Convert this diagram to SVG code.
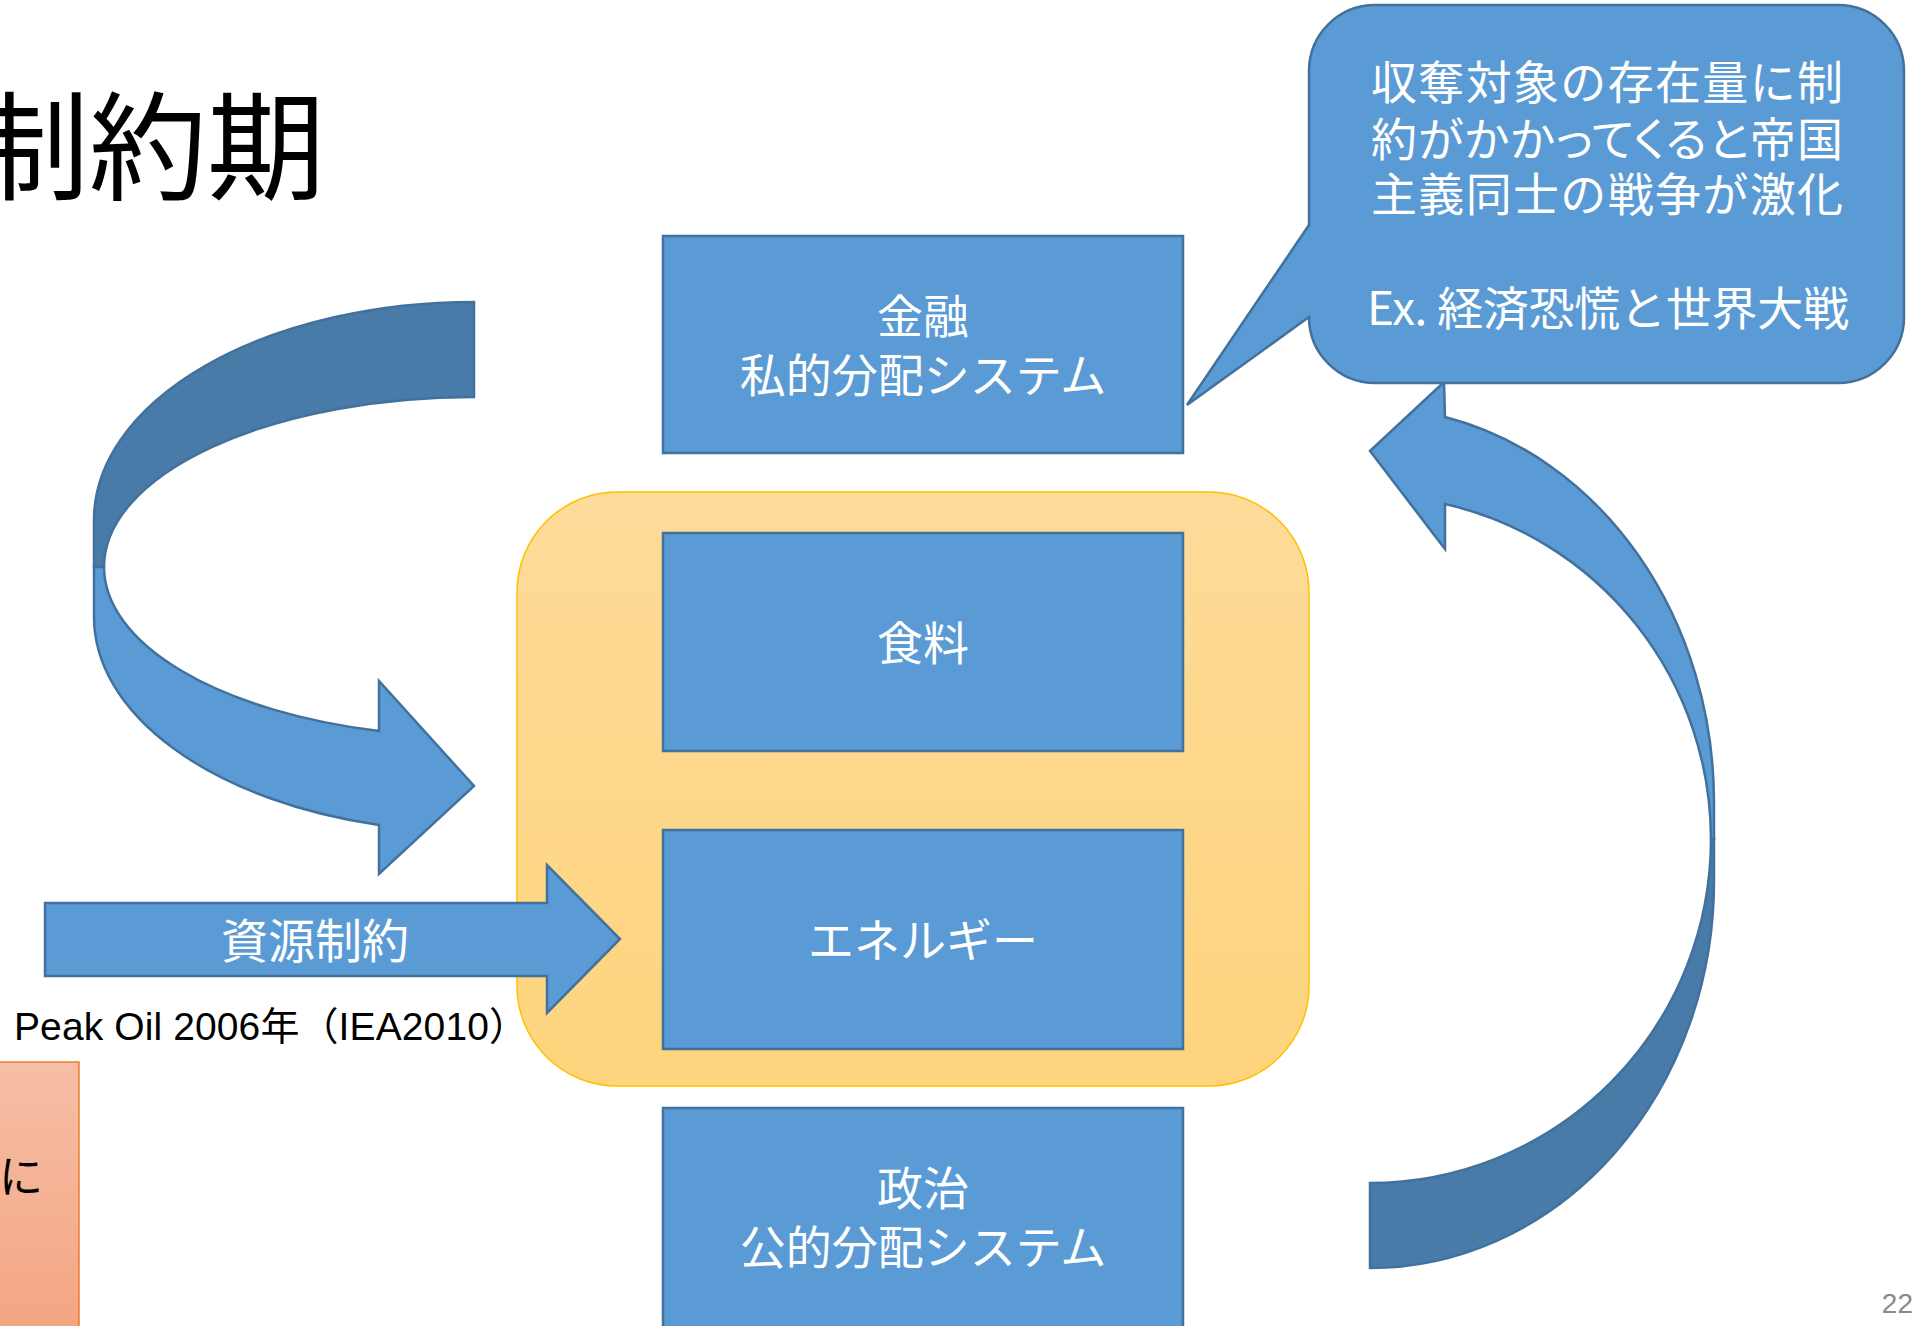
<svg xmlns="http://www.w3.org/2000/svg" width="1916" height="1326" viewBox="0 0 1916 1326">
<defs>
<linearGradient id="gy" x1="0" y1="0" x2="0" y2="1"><stop offset="0" stop-color="#fddb99"/><stop offset="1" stop-color="#fed47d"/></linearGradient>
<linearGradient id="go" x1="0" y1="0" x2="0" y2="1"><stop offset="0" stop-color="#f6bea6"/><stop offset="1" stop-color="#f4a582"/></linearGradient>
<style>
.box{fill:#5b9bd5;stroke:#41719c;stroke-width:2.5}
.dark{fill:#497ba9;stroke:#41719c;stroke-width:2.5}
.lbl{font-family:"Noto Sans CJK JP","Liberation Sans",sans-serif;fill:#ffffff;text-anchor:middle;font-size:46px}
.blk{font-family:"Liberation Sans","Noto Sans CJK JP",sans-serif;fill:#000000}
</style>
</defs>
<rect width="1916" height="1326" fill="#ffffff"/>

<g id="title"><text x="325" y="191" font-family="Noto Sans CJK JP, sans-serif" font-size="118" text-anchor="end" fill="#000">制約期</text></g>

<g id="side-note">
<rect x="-3" y="1062" width="82" height="270" fill="url(#go)" stroke="#ed7d31" stroke-width="1.5"/>
<text x="-1" y="1193" font-family="Noto Sans CJK JP, sans-serif" font-size="44" fill="#000">に</text>
</g>

<g id="group-core"><rect x="517" y="492" width="792" height="594" rx="100" ry="100" fill="url(#gy)" stroke="#ffc000" stroke-width="1.5"/></g>

<g id="node-finance"><rect class="box" x="663" y="236" width="520" height="217"/>
<text class="lbl" x="923" y="333">金融</text><text class="lbl" x="923" y="392">私的分配システム</text></g>

<g id="node-food"><rect class="box" x="663" y="533" width="520" height="218"/>
<text class="lbl" x="923" y="660">食料</text></g>

<g id="node-energy"><rect class="box" x="663" y="830" width="520" height="219"/>
<text class="lbl" x="923" y="957">エネルギー</text></g>

<g id="node-politics"><rect class="box" x="663" y="1108" width="520" height="240"/>
<text class="lbl" x="923" y="1205">政治</text><text class="lbl" x="923" y="1264">公的分配システム</text></g>

<g id="connectors">
<g id="arrow-left-curved">
<path class="dark" d="M474,302 A380,218 0 0 0 94,520 L94,567 L104,567 A370,170 0 0 1 474,397 Z"/>
<path class="box" d="M104,567 L94,567 L94,617 A380,215 0 0 0 379,825 L379,874 L474,786 L379,681 L379,731 A370,170 0 0 1 104,567 Z"/>
</g>
<g id="arrow-right-curved">
<path class="dark" d="M1370,1183 A341,344 0 0 0 1711,839 L1714,839 L1714,881 A344,387 0 0 1 1370,1268 Z"/>
<path class="box" d="M1445,417 A344,395 0 0 1 1714,802 L1714,839 L1711,839 A341,344 0 0 0 1445,504 L1445,549 L1370,451 L1444,382 L1445,417 Z"/>
</g>
<g id="arrow-resource">
<path class="box" d="M45,903 L547,903 L547,865 L620,939 L547,1013 L547,976 L45,976 Z"/>
<text class="lbl" x="315" y="958" style="font-size:47px">資源制約</text>
</g>
</g>

<g id="note-peak"><text class="blk" x="14" y="1040" font-size="39" textLength="514" lengthAdjust="spacing">Peak Oil 2006年（IEA2010）</text></g>

<g id="callout">
<path class="box" d="M1375,5 H1838 A66,66 0 0 1 1904,71 V317 A66,66 0 0 1 1838,383 H1375 A66,66 0 0 1 1309,317 L1187,405 L1309,225 V71 A66,66 0 0 1 1375,5 Z"/>
<text class="lbl" x="1607" y="99" textLength="472" lengthAdjust="spacing">収奪対象の存在量に制</text>
<text class="lbl" x="1607" y="156" textLength="472" lengthAdjust="spacing" style="font-feature-settings:'palt'">約がかかってくると帝国</text>
<text class="lbl" x="1607" y="211" textLength="472" lengthAdjust="spacing">主義同士の戦争が激化</text>
<text class="lbl" x="1608" y="325" textLength="482" lengthAdjust="spacing">Ex. 経済恐慌と世界大戦</text>
</g>

<g id="page-number"><text x="1913" y="1313" font-family="Liberation Sans, sans-serif" font-size="28" fill="#898989" text-anchor="end">22</text></g>
</svg>
